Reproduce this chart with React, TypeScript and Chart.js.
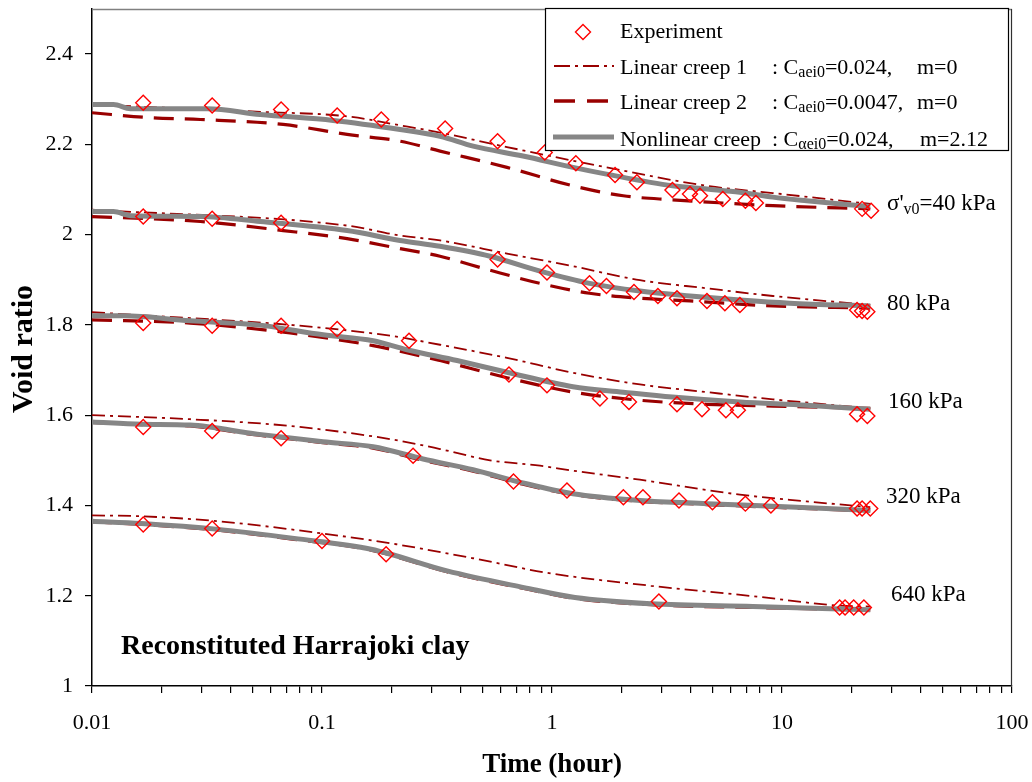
import React, { useEffect, useRef } from "react";
import { Chart, registerables } from "chart.js";

Chart.register(...registerables);

type Pt = [number, number];

const SERIF = "'Liberation Serif', 'Times New Roman', Times, serif";

// ---- Experiment: [time (hour), void ratio] ----
const exp40: Pt[] = [[0.0167, 2.292], [0.0333, 2.286], [0.0664, 2.277], [0.1164, 2.264], [0.181, 2.255], [0.343, 2.235], [0.58, 2.207], [0.93, 2.182], [1.27, 2.158], [1.88, 2.132], [2.34, 2.116], [3.34, 2.099], [3.98, 2.09], [4.4, 2.086], [5.53, 2.079], [6.93, 2.075], [7.7, 2.07], [22.3, 2.057], [24.4, 2.053]];
const exp80: Pt[] = [[0.0167, 2.04], [0.0333, 2.035], [0.0664, 2.026], [0.58, 1.945], [0.951, 1.916], [1.456, 1.892], [1.725, 1.886], [2.272, 1.873], [2.887, 1.864], [3.495, 1.859], [4.718, 1.853], [5.646, 1.848], [6.56, 1.844], [21.2, 1.833], [22.3, 1.831], [23.5, 1.829]];
const exp160: Pt[] = [[0.0167, 1.804], [0.0333, 1.798], [0.0664, 1.798], [0.1164, 1.791], [0.239, 1.765], [0.65, 1.69], [0.951, 1.666], [1.616, 1.637], [2.161, 1.629], [3.495, 1.624], [4.489, 1.613], [5.703, 1.611], [6.43, 1.611], [21.2, 1.602], [23.5, 1.598]];
const exp320: Pt[] = [[0.0167, 1.574], [0.0333, 1.565], [0.0664, 1.549], [0.2489, 1.51], [0.68, 1.453], [1.162, 1.433], [2.043, 1.418], [2.486, 1.418], [3.566, 1.411], [4.985, 1.407], [6.93, 1.404], [8.95, 1.4], [21.2, 1.393], [22.3, 1.393], [24.2, 1.393]];
const exp640: Pt[] = [[0.0167, 1.358], [0.0333, 1.349], [0.1, 1.321], [0.19, 1.292], [2.916, 1.187], [17.8, 1.174], [18.8, 1.174], [20.5, 1.174], [22.7, 1.174]];

// ---- Linear creep 1 (dash-dot) ----
const lin1_40: Pt[] = [[0.01, 2.288], [0.0539, 2.272], [0.1286, 2.262], [0.2186, 2.242], [0.326, 2.226], [0.637, 2.194], [1.725, 2.149], [4.718, 2.108], [9.13, 2.092], [24.2, 2.068]];
const lin1_80: Pt[] = [[0.01, 2.055], [0.1286, 2.02], [0.2186, 1.998], [0.326, 1.987], [0.637, 1.958], [1.234, 1.93], [2.412, 1.899], [4.718, 1.881], [9.13, 1.864], [24.2, 1.844]];
const lin1_160: Pt[] = [[0.01, 1.828], [0.0267, 1.815], [0.0727, 1.8], [0.1978, 1.776], [0.326, 1.756], [0.637, 1.727], [1.234, 1.694], [2.412, 1.668], [4.718, 1.651], [9.13, 1.635], [24.2, 1.615]];
const lin1_320: Pt[] = [[0.01, 1.6], [0.0267, 1.591], [0.0727, 1.576], [0.1978, 1.547], [0.326, 1.525], [0.538, 1.5], [0.887, 1.488], [1.198, 1.478], [2.412, 1.457], [6.56, 1.424], [12.8, 1.409], [24.2, 1.396]];
const lin1_640: Pt[] = [[0.01, 1.378], [0.0164, 1.376], [0.0354, 1.365], [0.1, 1.338], [0.21, 1.314], [0.4538, 1.283], [0.9707, 1.25], [2.692, 1.222], [7.47, 1.199], [17.8, 1.178], [24.2, 1.176]];

// ---- Linear creep 2 (dashed) ----
const lin2_40: Pt[] = [[0.01, 2.27], [0.0179, 2.259], [0.0296, 2.255], [0.0678, 2.244], [0.1286, 2.222], [0.2186, 2.207], [0.326, 2.185], [0.637, 2.149], [1.234, 2.108], [2.04, 2.086], [3.34, 2.077], [5.53, 2.07], [9.13, 2.064], [24.2, 2.057]];
const lin2_80: Pt[] = [[0.01, 2.04], [0.0296, 2.029], [0.0678, 2.009], [0.1286, 1.991], [0.2186, 1.969], [0.326, 1.952], [0.538, 1.921], [0.887, 1.892], [1.456, 1.87], [2.412, 1.859], [3.98, 1.853], [9.13, 1.842], [24.2, 1.837]];
const lin2_160: Pt[] = [[0.01, 1.811], [0.0267, 1.804], [0.0727, 1.782], [0.1668, 1.754], [0.326, 1.721], [0.637, 1.683], [1.234, 1.651], [2.412, 1.633], [4.718, 1.624], [9.13, 1.62], [24.2, 1.615]];
const lin2_320: Pt[] = [[0.01, 1.584], [0.0164, 1.579], [0.0267, 1.576], [0.0523, 1.556], [0.1012, 1.539], [0.1668, 1.527], [0.2752, 1.5], [0.4538, 1.476], [0.748, 1.447], [1.234, 1.424], [2.412, 1.409], [4.718, 1.402], [9.13, 1.396], [24.2, 1.388]];
const lin2_640: Pt[] = [[0.01, 1.364], [0.0164, 1.358], [0.0354, 1.345], [0.0757, 1.325], [0.1635, 1.301], [0.3498, 1.253], [0.756, 1.216], [1.259, 1.194], [2.692, 1.18], [7.47, 1.174], [24.2, 1.168]];

// ---- Nonlinear creep (grey solid) ----
const non40: Pt[] = [[0.01, 2.288], [0.0124, 2.288], [0.0147, 2.279], [0.0317, 2.279], [0.0539, 2.266], [0.1118, 2.253], [0.2186, 2.233], [0.326, 2.218], [0.454, 2.196], [0.748, 2.174], [1.234, 2.149], [1.725, 2.134], [3.34, 2.108], [4.718, 2.101], [6.56, 2.094], [9.13, 2.083], [12.8, 2.075], [24.2, 2.062]];
const non80: Pt[] = [[0.01, 2.051], [0.0124, 2.051], [0.0147, 2.042], [0.0296, 2.04], [0.0539, 2.029], [0.1286, 2.009], [0.2186, 1.987], [0.326, 1.974], [0.538, 1.952], [0.887, 1.919], [1.456, 1.892], [2.412, 1.875], [3.98, 1.864], [6.56, 1.855], [10.8, 1.848], [24.2, 1.842]];
const non160: Pt[] = [[0.01, 1.82], [0.0137, 1.82], [0.0267, 1.809], [0.0523, 1.8], [0.1012, 1.778], [0.1668, 1.765], [0.2344, 1.745], [0.3866, 1.721], [0.637, 1.695], [1.234, 1.663], [2.04, 1.651], [3.34, 1.64], [6.56, 1.629], [12.8, 1.622], [24.2, 1.613]];
const non320: Pt[] = [[0.01, 1.585], [0.0164, 1.58], [0.0267, 1.578], [0.0523, 1.558], [0.1012, 1.541], [0.1668, 1.53], [0.2752, 1.503], [0.4538, 1.479], [0.748, 1.45], [1.234, 1.426], [2.412, 1.411], [4.718, 1.404], [9.13, 1.398], [24.2, 1.389]];
const non640: Pt[] = [[0.01, 1.365], [0.0164, 1.36], [0.0354, 1.347], [0.0757, 1.327], [0.1635, 1.303], [0.3498, 1.255], [0.756, 1.218], [1.259, 1.196], [2.692, 1.182], [7.47, 1.176], [24.2, 1.169]];

const EXPERIMENTS = [exp40, exp80, exp160, exp320, exp640];
const LINEAR1 = [lin1_40, lin1_80, lin1_160, lin1_320, lin1_640];
const LINEAR2 = [lin2_40, lin2_80, lin2_160, lin2_320, lin2_640];
const NONLINEAR = [non40, non80, non160, non320, non640];

// ---- Axes ----
const X_MIN = 0.01;
const X_MAX = 100;
const Y_MIN = 1;
const Y_MAX = 2.5;
const X_DECADES = [0.01, 0.1, 1, 10, 100];
const X_DECADE_LABELS = ["0.01", "0.1", "1", "10", "100"];
const X_MULTIPLIERS = [1, 2, 3, 4, 5, 6, 7, 8, 9];
const Y_TICKS = [1, 1.2, 1.4, 1.6, 1.8, 2, 2.2, 2.4];
const Y_TICK_LABELS = ["1", "1.2", "1.4", "1.6", "1.8", "2", "2.2", "2.4"];

// ---- Texts ----
const X_TITLE = "Time (hour)";
const Y_TITLE = "Void ratio";
const NOTE = "Reconstituted Harrajoki clay";
const PRESSURE_LABELS = ["40 kPa", "80 kPa", "160 kPa", "320 kPa", "640 kPa"];
const LEGEND_NAMES = ["Experiment", "Linear creep 1", "Linear creep 2", "Nonlinear creep"];
const LEGEND_SUBS = ["", "aei0", "aei0", "\u03b1ei0"];
const LEGEND_VALUES = ["", "=0.024,", "=0.0047,", "=0.024,"];
const LEGEND_M = ["", "m=0", "m=0", "m=2.12"];

const RED = "#ff0000";
const DARKRED = "#990000";
const GREY = "#868686";

const X_TICK_VALUES: number[] = [];
X_DECADES.slice(0, -1).forEach((d) =>
  X_MULTIPLIERS.forEach((m) => X_TICK_VALUES.push(Number((d * m).toPrecision(6))))
);
X_TICK_VALUES.push(X_DECADES[X_DECADES.length - 1]);

const toXY = (arr: Pt[]) => arr.map(([x, y]) => ({ x, y }));

function drawParts(
  ctx: CanvasRenderingContext2D,
  x: number,
  y: number,
  parts: [string, boolean][],
  size: number,
  subSize: number,
  drop: number
) {
  let cx = x;
  for (const [t, sub] of parts) {
    ctx.font = `${sub ? subSize : size}px ${SERIF}`;
    ctx.fillText(t, cx, y + (sub ? drop : 0));
    cx += ctx.measureText(t).width;
  }
  return cx;
}

function diamond(ctx: CanvasRenderingContext2D, x: number, y: number, r: number) {
  ctx.beginPath();
  ctx.moveTo(x - r, y);
  ctx.lineTo(x, y - r);
  ctx.lineTo(x + r, y);
  ctx.lineTo(x, y + r);
  ctx.closePath();
  ctx.stroke();
}

const overlay = {
  id: "overlay",
  afterDraw(chart: any) {
    const ctx: CanvasRenderingContext2D = chart.ctx;
    const a = chart.chartArea;
    ctx.save();
    // plot frame (top, right)
    ctx.setLineDash([]);
    ctx.lineWidth = 1.5;
    ctx.strokeStyle = "#808080";
    ctx.beginPath();
    ctx.moveTo(a.left, a.top + 0.5);
    ctx.lineTo(a.right, a.top + 0.5);
    ctx.stroke();
    ctx.strokeStyle = "#303030";
    ctx.lineWidth = 1.2;
    ctx.beginPath();
    ctx.moveTo(a.right - 0.5, a.top);
    ctx.lineTo(a.right - 0.5, a.bottom);
    ctx.stroke();

    // legend box
    const lx = 545.5, ly = 8.5, lw = 463, lh = 142;
    ctx.fillStyle = "#ffffff";
    ctx.fillRect(lx, ly, lw, lh);
    ctx.strokeStyle = "#000";
    ctx.lineWidth = 1.2;
    ctx.strokeRect(lx, ly, lw, lh);

    const rowsY = [32, 66, 101, 137];
    const baseY = [38, 74, 109, 146];
    // experiment marker
    ctx.strokeStyle = RED;
    ctx.lineWidth = 1.4;
    diamond(ctx, 583, rowsY[0], 7.5);
    // linear creep 1
    ctx.strokeStyle = DARKRED;
    ctx.lineWidth = 2;
    ctx.setLineDash([16, 5, 3, 5]);
    ctx.beginPath();
    ctx.moveTo(554, rowsY[1]);
    ctx.lineTo(614, rowsY[1]);
    ctx.stroke();
    // linear creep 2
    ctx.lineWidth = 3.5;
    ctx.setLineDash([21, 12]);
    ctx.beginPath();
    ctx.moveTo(554, rowsY[2]);
    ctx.lineTo(608, rowsY[2]);
    ctx.stroke();
    // nonlinear
    ctx.setLineDash([]);
    ctx.strokeStyle = GREY;
    ctx.lineWidth = 5;
    ctx.beginPath();
    ctx.moveTo(553, rowsY[3]);
    ctx.lineTo(614, rowsY[3]);
    ctx.stroke();

    ctx.fillStyle = "#000";
    ctx.textBaseline = "alphabetic";
    ctx.textAlign = "left";
    LEGEND_NAMES.forEach((n, i) => {
      ctx.font = `22px ${SERIF}`;
      ctx.fillText(n, 620, baseY[i]);
      if (LEGEND_SUBS[i]) {
        drawParts(ctx, 772, baseY[i], [[": C", false], [LEGEND_SUBS[i], true], [LEGEND_VALUES[i], false]], 22, 16, 3);
        ctx.font = `22px ${SERIF}`;
        ctx.fillText(LEGEND_M[i], i === 3 ? 920 : 917, baseY[i]);
      }
    });

    // pressure labels
    const px = [887, 887, 888, 886, 891];
    const pb = [210, 310, 408, 503, 601];
    PRESSURE_LABELS.forEach((t, i) => {
      if (i === 0) {
        drawParts(ctx, px[i], pb[i], [["\u03c3'", false], ["v0", true], ["=" + t, false]], 23, 16, 4);
      } else {
        ctx.font = `23px ${SERIF}`;
        ctx.fillText(t, px[i], pb[i]);
      }
    });

    // note
    ctx.font = `bold 28px ${SERIF}`;
    ctx.fillText(NOTE, 121, 654);

    // axis titles
    ctx.font = `bold 27px ${SERIF}`;
    ctx.textAlign = "center";
    ctx.fillText(X_TITLE, 552, 772);
    ctx.save();
    ctx.translate(32, 349);
    ctx.rotate(-Math.PI / 2);
    ctx.font = `bold 30px ${SERIF}`;
    ctx.fillText(Y_TITLE, 0, 0);
    ctx.restore();

    ctx.restore();
  },
};

const zeroPad = (s: any) => {
  s.paddingTop = 0;
  s.paddingBottom = 0;
  s.paddingLeft = 0;
  s.paddingRight = 0;
};

export default function App() {
  const ref = useRef<HTMLCanvasElement | null>(null);

  useEffect(() => {
    if (!ref.current) return;
    const datasets: any[] = [];
    EXPERIMENTS.forEach((d) =>
      datasets.push({
        data: toXY(d),
        showLine: false,
        pointStyle: "rectRot",
        pointRadius: 7.5,
        pointBorderColor: RED,
        pointBackgroundColor: "rgba(0,0,0,0)",
        pointBorderWidth: 1.4,
      })
    );
    NONLINEAR.forEach((d) =>
      datasets.push({
        data: toXY(d),
        borderColor: GREY,
        borderWidth: 5,
        pointRadius: 0,
        fill: false,
        cubicInterpolationMode: "monotone",
      })
    );
    LINEAR1.forEach((d) =>
      datasets.push({
        data: toXY(d),
        borderColor: DARKRED,
        borderWidth: 1.8,
        borderDash: [13, 5, 3, 5],
        pointRadius: 0,
        fill: false,
        cubicInterpolationMode: "monotone",
      })
    );
    LINEAR2.forEach((d) =>
      datasets.push({
        data: toXY(d),
        borderColor: DARKRED,
        borderWidth: 3.2,
        borderDash: [20, 11],
        pointRadius: 0,
        fill: false,
        cubicInterpolationMode: "monotone",
      })
    );

    const chart = new Chart(ref.current, {
      type: "line",
      data: { datasets },
      options: {
        animation: false,
        responsive: false,
        events: [],
        layout: { padding: { top: 5, right: 20, left: 0, bottom: 0 } },
        plugins: { legend: { display: false }, tooltip: { enabled: false } },
        scales: {
          x: {
            type: "logarithmic",
            min: X_MIN,
            max: X_MAX,
            position: "bottom",
            afterBuildTicks: (s: any) => {
              s.ticks = X_TICK_VALUES.map((v) => ({ value: v }));
            },
            afterFit: (s: any) => {
              s.height = 96;
              zeroPad(s);
            },
            ticks: {
              autoSkip: false,
              maxRotation: 0,
              minRotation: 0,
              padding: 17,
              color: "#000",
              font: { family: SERIF, size: 22 },
              callback: (v: any) => {
                const i = X_DECADES.findIndex((d) => Math.abs(Math.log10(d) - Math.log10(Number(v))) < 1e-6);
                return i >= 0 ? X_DECADE_LABELS[i] : "";
              },
            },
            grid: { drawOnChartArea: false, drawTicks: true, tickLength: 7, color: "#000", lineWidth: 1.2 },
            border: { display: true, color: "#000", width: 1.5 },
          } as any,
          y: {
            type: "linear",
            min: Y_MIN,
            max: Y_MAX,
            afterBuildTicks: (s: any) => {
              s.ticks = Y_TICKS.map((v) => ({ value: v }));
            },
            afterFit: (s: any) => {
              s.width = 92;
              zeroPad(s);
            },
            ticks: {
              padding: 12,
              color: "#000",
              font: { family: SERIF, size: 22 },
              callback: (v: any) => {
                const i = Y_TICKS.findIndex((t) => Math.abs(t - Number(v)) < 1e-9);
                return i >= 0 ? Y_TICK_LABELS[i] : "";
              },
            },
            grid: { drawOnChartArea: false, drawTicks: true, tickLength: 7, color: "#000", lineWidth: 1.2 },
            border: { display: true, color: "#000", width: 1.5 },
          } as any,
        },
      },
      plugins: [overlay],
    });
    return () => chart.destroy();
  }, []);

  return (
    <div style={{ position: "absolute", left: 0, top: 0, width: 1032, height: 782, background: "#fff" }}>
      <canvas ref={ref} width={1032} height={782} style={{ display: "block" }} />
    </div>
  );
}
